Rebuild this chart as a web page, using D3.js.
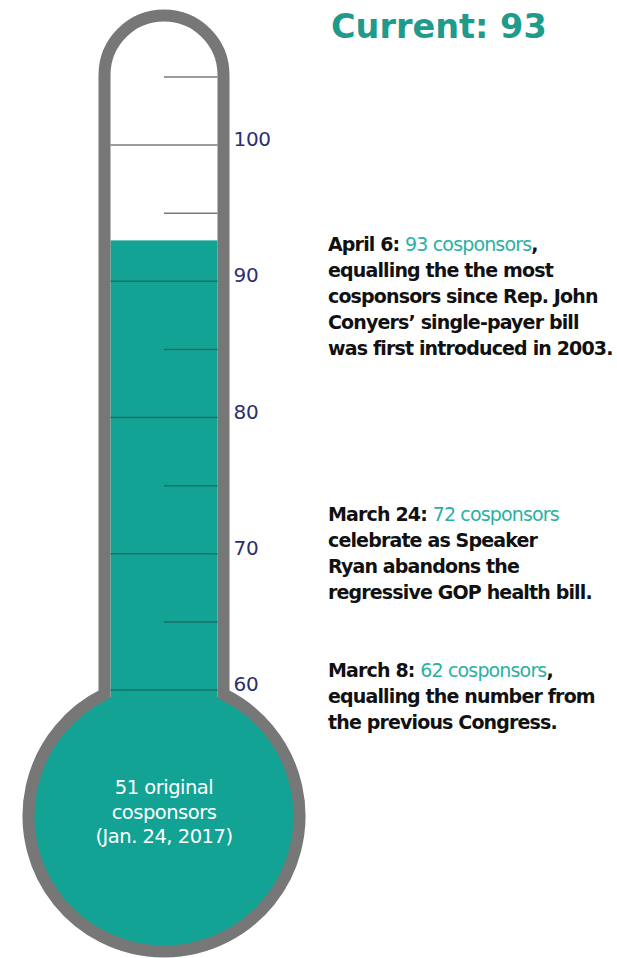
<!DOCTYPE html>
<html>
<head>
<meta charset="utf-8">
<script src="https://cdn.jsdelivr.net/npm/d3@7"></script>
<style>
  body { margin: 0; background: #fff; }
  text { font-family: "DejaVu Sans", Lato, sans-serif; }
</style>
</head>
<body>
<div id="chart"></div>
<script>
// values
var current = 93;
var original = 51;
var majorTicks = [60, 70, 80, 90, 100];
var minorTicks = [65, 75, 85, 95, 105];
var bulbLines = ["51 original", "cosponsors", "(Jan. 24, 2017)"];

var noteDates = ["April 6:", "March 24:", "March 8:"];
var noteValues = [93, 72, 62];
var noteTails = [",", "", ","];
var noteLabelAt = [92.7, 72.9, 61.5];
var noteBodies = [
    ["equalling the the most", "cosponsors since Rep. John", "Conyers\u2019 single-payer bill", "was first introduced in 2003."],
    ["celebrate as Speaker", "Ryan abandons the", "regressive GOP health bill."],
    ["equalling the number from", "the previous Congress."]
];

function drawChart() {
    var width = 617;
    var height = 958;

    var svg = d3.select('#chart')
      .append('svg')
        .attr('width', width)
        .attr('height', height);

    var y = d3.scaleLinear()
        .domain([60, 100])
        .range([690, 145]);

    var cx = 164;
    var halfW = 59.5;
    var wall = 12;
    var topY = 75;
    var bulbCy = 816;
    var bulbR = 135.5;
    var neckY = bulbCy - Math.sqrt(bulbR * bulbR - halfW * halfW);

    var path = d3.path();
    path.moveTo(cx - halfW, neckY);
    path.lineTo(cx - halfW, topY);
    path.arc(cx, topY, halfW, Math.PI, 0);
    path.lineTo(cx + halfW, neckY);
    var a0 = Math.atan2(neckY - bulbCy, halfW);
    var a1 = Math.atan2(neckY - bulbCy, -halfW);
    path.arc(cx, bulbCy, bulbR, a0, a1);
    path.closePath();

    svg.append('path')
        .attr('d', path.toString())
        .attr('fill', '#fff');

    var innerL = cx - halfW + wall / 2;
    var innerR = cx + halfW - wall / 2;

    // mercury
    svg.append('rect')
        .attr('x', innerL)
        .attr('y', y(current))
        .attr('width', innerR - innerL)
        .attr('height', neckY + 20 - y(current))
        .attr('fill', '#13a394');

    svg.append('circle')
        .attr('cx', cx)
        .attr('cy', bulbCy)
        .attr('r', bulbR - wall / 2 + 1)
        .attr('fill', '#13a394');

    function tickColor(v) { return v <= current ? '#1a7069' : '#7a7a7a'; }

    svg.append('g')
      .selectAll('line')
      .data(majorTicks)
      .enter()
      .append('line')
        .attr('x1', innerL)
        .attr('x2', innerR)
        .attr('y1', d => y(d))
        .attr('y2', d => y(d))
        .attr('stroke', tickColor)
        .attr('stroke-width', 1.5);

    svg.append('g')
      .selectAll('line')
      .data(minorTicks)
      .enter()
      .append('line')
        .attr('x1', cx)
        .attr('x2', innerR)
        .attr('y1', d => y(d))
        .attr('y2', d => y(d))
        .attr('stroke', tickColor)
        .attr('stroke-width', 1.5);

    svg.append('path')
        .attr('d', path.toString())
        .attr('fill', 'none')
        .attr('stroke', '#777777')
        .attr('stroke-width', wall);

    svg.append('g')
      .selectAll('text')
      .data(majorTicks)
      .enter()
      .append('text')
        .attr('x', cx + halfW + wall / 2 + 4)
        .attr('y', d => y(d) + 1)
        .attr('fill', '#2c2f6d')
        .attr('font-size', '20px')
        .attr('letter-spacing', '-0.3px')
        .text(d => d);

    // bulb label
    svg.append('text')
        .attr('text-anchor', 'middle')
        .attr('fill', '#fff')
        .attr('font-size', '19.5px')
        .attr('letter-spacing', '-0.5px')
      .selectAll('tspan')
      .data(bulbLines)
      .enter()
      .append('tspan')
        .attr('x', cx)
        .attr('y', (d, i) => 794 + i * 24.5)
        .text(d => d);

    // headline
    svg.append('text')
        .attr('x', 331)
        .attr('y', 38)
        .attr('fill', '#1f9a8b')
        .attr('font-size', '33.5px')
        .attr('font-weight', 700)
        .text('Current: ' + current);

    // notes
    var notes = noteDates.map((d, i) => ({
        date: d, value: noteValues[i], tail: noteTails[i],
        at: noteLabelAt[i], body: noteBodies[i]
    }));

    var note = svg.append('g')
      .selectAll('text')
      .data(notes)
      .enter()
      .append('text')
        .attr('font-size', '19px')
        .attr('font-weight', 700)
        .attr('letter-spacing', '-0.85px')
        .attr('fill', '#111');

    note.each(function(d) {
        var t = d3.select(this);
        var y0 = y(d.at) + 7;
        t.append('tspan')
            .attr('x', 328)
            .attr('y', y0)
            .text(d.date + ' ');
        t.append('tspan')
            .attr('fill', '#2bb1a2')
            .attr('font-weight', 400)
            .text(d.value + ' cosponsors');
        if (d.tail) t.append('tspan').text(d.tail);
        d.body.forEach((line, i) => {
            t.append('tspan')
                .attr('x', 328)
                .attr('y', y0 + (i + 1) * 26)
                .text(line);
        });
    });
}

drawChart();
</script>
</body>
</html>
